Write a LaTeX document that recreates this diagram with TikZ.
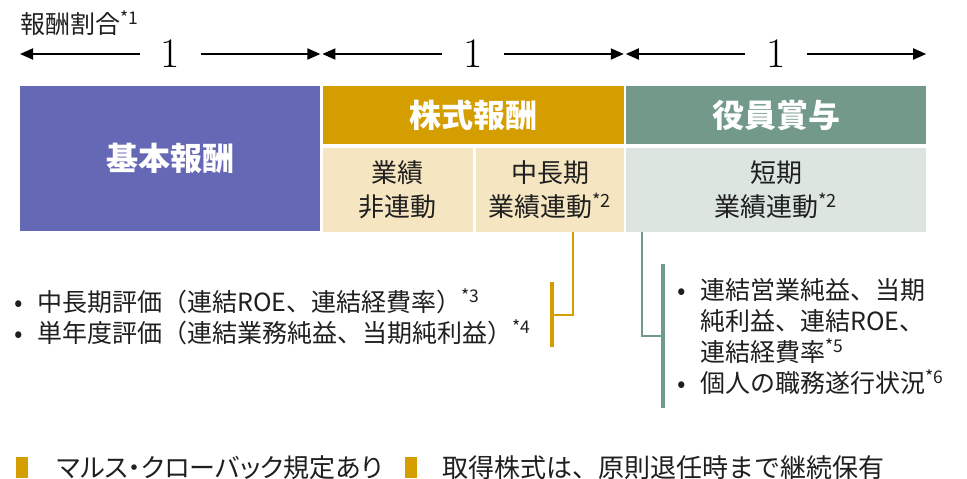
\documentclass[tikz,border=0pt]{standalone}
\usepackage{fontspec}
\newfontfamily\jp{Noto Sans CJK JP}
\newfontfamily\jpnarrow{Noto Sans CJK JP}[RawFeature=+palt]
\usetikzlibrary{arrows.meta, positioning}

\definecolor{kihon}{RGB}{101,104,180}
\definecolor{kabu}{RGB}{212,158,0}
\definecolor{kabulight}{RGB}{245,230,193}
\definecolor{shoyo}{RGB}{114,153,137}
\definecolor{shoyolight}{RGB}{220,229,224}

\newcommand\note[1]{\textsuperscript{*#1}}
\newcommand\bul{\makebox[23pt][l]{•}}

\begin{document}
\begin{tikzpicture}[
    x=1pt, y=-1pt,
    block/.style={inner sep=0pt, align=center, text=black!88, font=\jp\fontsize{26}{34}\selectfont},
    head/.style={block, text=white, font=\jp\bfseries\fontsize{32}{36}\selectfont},
    ratio/.style={{Triangle[length=13pt,width=11pt]}-{Triangle[length=13pt,width=11pt]}, line width=1.8pt},
    share/.style={fill=white, inner xsep=21pt, inner ysep=0pt, font=\fontsize{42}{42}\selectfont},
    list/.style={inner sep=0pt, align=left, text=black!88, font=\jp\fontsize{25}{31}\selectfont},
    bar/.style={inner sep=0pt, minimum width=4pt},
    legendmark/.style={fill=kabu, inner sep=0pt, minimum width=12pt, minimum height=21pt},
    legend/.style={inner sep=0pt, text=black!88, font=\jp\fontsize{26}{30}\selectfont}
  ]
    \useasboundingbox (0,0) rectangle (967,479);

    % boxes
    \node[head, fill=kihon, minimum width=300pt, minimum height=145pt, anchor=north west] (basic) at (20,86) {基本報酬};
    \node[head, fill=kabu, minimum width=301pt, minimum height=58pt, right=2pt of basic.north east, anchor=north west] (stock) {株式報酬};
    \node[block, fill=kabulight, minimum width=150pt, minimum height=84pt, below=3pt of stock.south west, anchor=north west] (fixedpart) {業績\\非連動};
    \node[block, fill=kabulight, minimum width=148pt, minimum height=84pt, right=3pt of fixedpart.north east, anchor=north west] (linkedpart) {中長期\\業績連動\note{2}};
    \node[head, fill=shoyo, minimum width=300pt, minimum height=58pt, right=2pt of stock.north east, anchor=north west] (bonus) {役員賞与};
    \node[block, fill=shoyolight, minimum width=300pt, minimum height=84pt, below=3pt of bonus.south west, anchor=north west] (shortpart) {短期\\業績連動\note{2}};

    % ratio
    \node[anchor=west, inner sep=0pt, text=black!88, font=\jp\fontsize{25}{28}\selectfont] (ratiolabel) at (20,23) {報酬割合\note{1}};
    \coordinate (lvl) at (0,54);
    \draw[ratio] (basic.north west |- lvl) -- node[share] (one1) {1} (basic.north east |- lvl);
    \draw[ratio] (stock.north west |- lvl) -- node[share] (one2) {1} (stock.north east |- lvl);
    \draw[ratio] (bonus.north west |- lvl) -- node[share] (one3) {1} (bonus.north east |- lvl);

    % indicators
    \node[bar, fill=kabu, minimum height=65pt] (midbar) at (552,314.5) {};
    \node[bar, fill=shoyo, minimum height=144pt] (shortbar) at (663,336) {};
    \draw[kabu, line width=2pt] ([xshift=23pt]linkedpart.south) |- (midbar.east);
    \draw[shoyo, line width=2pt] ([xshift=16pt]shortpart.south west) |- (shortbar.west);

    \node[list, anchor=west] (midlist) at (14,317) {\bul 中長期評価（連結ROE、連結経費率）\note{3}\\
      \bul 単年度評価（連結業務純益、当期純利益）\note{4}};
    \node[list, anchor=west] (shortlist) at (677,337) {\bul 連結営業純益、当期\\
      \hphantom{\bul}純利益、連結ROE、\\
      \hphantom{\bul}連結経費率\note{5}\\
      \bul 個人の職務遂行状況\note{6}};

    % legend
    \node[legendmark] (mark1) at (22,467.5) {};
    \node[legend, right=29pt of mark1, font=\jpnarrow\fontsize{26}{30}\selectfont] (malus) {マルス・クローバック規定あり};
    \node[legendmark] (mark2) at (410.5,467.5) {};
    \node[legend, right=26pt of mark2] (keep) {取得株式は、原則退任時まで継続保有};
  \end{tikzpicture}
\end{document}
